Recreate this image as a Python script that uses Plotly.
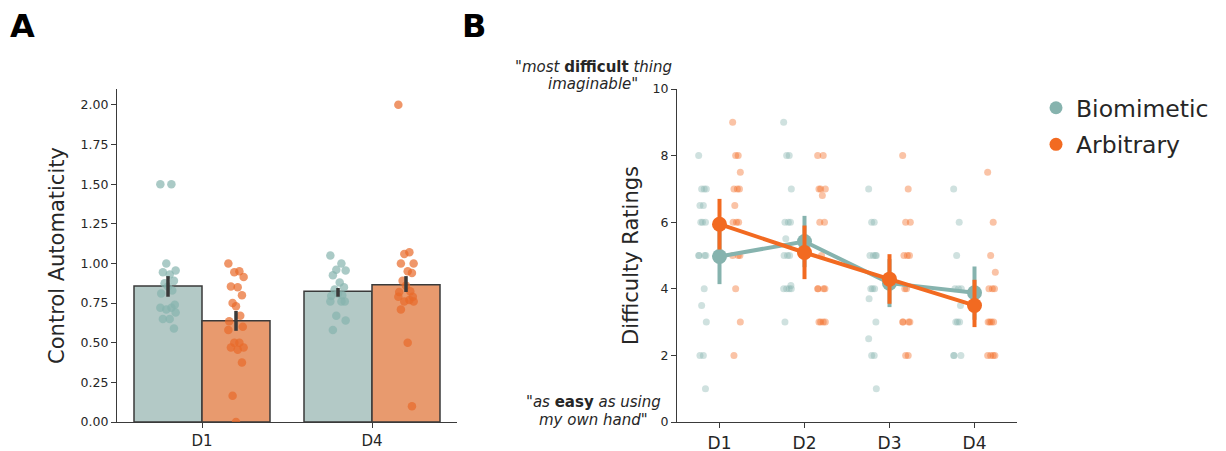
import plotly.graph_objects as go

# ---------------- Data ----------------
# Panel A: Control Automaticity
cats_a = ["D1", "D4"]
bar_bio = [0.858, 0.825]
bar_arb = [0.639, 0.866]
ci_bio_lo = [0.79, 0.79]
ci_bio_hi = [0.92, 0.845]
ci_arb_lo = [0.575, 0.82]
ci_arb_hi = [0.70, 0.92]

pts_a_bio_d1 = [1.5, 1.5, 1.0, 0.955, 0.945, 0.93, 0.89, 0.875, 0.855, 0.83, 0.81,
                0.74, 0.72, 0.72, 0.71, 0.69, 0.65, 0.65, 0.59]
pts_a_arb_d1 = [1.0, 0.95, 0.945, 0.915, 0.855, 0.85, 0.80, 0.75, 0.73, 0.67, 0.635,
                0.60, 0.58, 0.50, 0.50, 0.47, 0.47, 0.455, 0.375, 0.165, 0.0]
pts_a_bio_d4 = [1.05, 1.0, 0.96, 0.955, 0.925, 0.88, 0.85, 0.835, 0.81, 0.80, 0.795,
                0.76, 0.76, 0.76, 0.67, 0.64, 0.58]
pts_a_arb_d4 = [2.0, 1.07, 1.06, 1.0, 1.0, 0.95, 0.94, 0.89, 0.86, 0.825, 0.82,
                0.79, 0.79, 0.77, 0.76, 0.76, 0.71, 0.5, 0.1]

# Panel B: Difficulty Ratings
cats_b = ["D1", "D2", "D3", "D4"]
mean_bio = [4.97, 5.42, 4.17, 3.88]
mean_arb = [5.94, 5.09, 4.29, 3.50]
ci_b_bio_lo = [4.14, 4.65, 3.45, 3.07]
ci_b_bio_hi = [5.80, 6.19, 4.89, 4.67]
ci_b_arb_lo = [5.18, 4.29, 3.55, 2.85]
ci_b_arb_hi = [6.70, 5.90, 5.04, 4.27]

pts_b_bio = [
    [8, 7, 7, 7, 6.5, 6.5, 6, 6, 6, 5, 5, 5, 5, 4, 3.5, 3, 2, 2, 1],
    [9, 8, 8, 7, 6, 6, 6, 5.5, 5, 5, 5, 4.1, 4, 4, 4, 4, 3],
    [7, 6, 6, 5, 5, 5, 5, 4, 4, 4, 3.7, 3, 2.5, 2, 2, 1],
    [7, 6, 5, 4, 4, 4, 3.5, 3, 3, 3, 2, 2, 2],
]
pts_b_arb = [
    [9, 8, 8, 7.5, 7, 7, 7, 6.5, 6, 6, 6, 5, 5, 5, 4, 3, 2],
    [8, 8, 7, 7, 7, 6.8, 6, 6, 5, 4, 4, 4, 4, 3, 3, 3, 3],
    [8, 7, 6, 6, 5, 5, 5, 4, 4, 3, 3, 3, 3, 2, 2],
    [7.5, 6, 5, 4.5, 4, 4, 4, 3, 3, 3, 3, 2, 2, 2, 2],
]

# ---------------- Styles ----------------
TEAL_BAR = "#b3c9c6"
ORANGE_BAR = "#e89a6e"
TEAL_PT = "#86b3ae"
ORANGE_PT = "#e8692a"
ORANGE_LINE = "#f26a21"
DARK = "#3a3a3a"
TXT = "#262626"
FONT = "DejaVu Sans"
JIT = [-0.045, 0.02, -0.01, 0.045, -0.03, 0.01, 0.035, -0.02, 0.0, 0.025, -0.04, 0.04]

W, H = 1226, 451
OFF = 8  # page body margin in the browser
def fx(p): return (p - OFF) / W
def fy(p): return 1 - (p - OFF) / H

fig = go.Figure()

# ---------------- Panel A ----------------
dodge_a = 0.2
xa_bio = [i - dodge_a for i in range(len(cats_a))]
xa_arb = [i + dodge_a for i in range(len(cats_a))]
fig.add_trace(go.Bar(x=xa_bio, y=bar_bio, width=0.4, marker=dict(color=TEAL_BAR, line=dict(color=DARK, width=1.5)),
                     xaxis="x", yaxis="y", showlegend=False))
fig.add_trace(go.Bar(x=xa_arb, y=bar_arb, width=0.4, marker=dict(color=ORANGE_BAR, line=dict(color=DARK, width=1.5)),
                     xaxis="x", yaxis="y", showlegend=False))

def strip(vals, center, color, opacity, size, xa, ya):
    xs = [center + JIT[k % len(JIT)] for k in range(len(vals))]
    fig.add_trace(go.Scatter(x=xs, y=vals, mode="markers", xaxis=xa, yaxis=ya, showlegend=False,
                             marker=dict(color=color, size=size, opacity=opacity, line=dict(width=0))))

strip(pts_a_bio_d1, xa_bio[0], TEAL_PT, 0.7, 8.5, "x", "y")
strip(pts_a_arb_d1, xa_arb[0], ORANGE_PT, 0.7, 8.5, "x", "y")
strip(pts_a_bio_d4, xa_bio[1], TEAL_PT, 0.7, 8.5, "x", "y")
strip(pts_a_arb_d4, xa_arb[1], ORANGE_PT, 0.7, 8.5, "x", "y")

for xs, means, lo, hi in [(xa_bio, bar_bio, ci_bio_lo, ci_bio_hi), (xa_arb, bar_arb, ci_arb_lo, ci_arb_hi)]:
    fig.add_trace(go.Scatter(x=xs, y=means, mode="markers", marker=dict(size=1, opacity=0), xaxis="x", yaxis="y",
                             showlegend=False,
                             error_y=dict(type="data", symmetric=False,
                                          array=[h - m for h, m in zip(hi, means)],
                                          arrayminus=[m - l for m, l in zip(means, lo)],
                                          color=DARK, thickness=3.5, width=0)))

# ---------------- Panel B ----------------
dodge_b = 0.2
for i in range(len(cats_b)):
    strip(pts_b_bio[i], i - dodge_b, TEAL_PT, 0.4, 7, "x2", "y2")
    strip(pts_b_arb[i], i + dodge_b, ORANGE_LINE, 0.4, 7, "x2", "y2")

xb = list(range(len(cats_b)))
for means, lo, hi, color in [(mean_bio, ci_b_bio_lo, ci_b_bio_hi, TEAL_PT),
                             (mean_arb, ci_b_arb_lo, ci_b_arb_hi, ORANGE_LINE)]:
    fig.add_trace(go.Scatter(x=xb, y=means, mode="lines+markers", xaxis="x2", yaxis="y2", showlegend=False,
                             line=dict(color=color, width=4),
                             marker=dict(color=color, size=15),
                             error_y=dict(type="data", symmetric=False,
                                          array=[h - m for h, m in zip(hi, means)],
                                          arrayminus=[m - l for m, l in zip(means, lo)],
                                          color=color, thickness=4, width=0)))

# legend-only traces
for name, color in [("Biomimetic", TEAL_PT), ("Arbitrary", ORANGE_LINE)]:
    fig.add_trace(go.Scatter(x=[None], y=[None], mode="markers", name=name, xaxis="x2", yaxis="y2",
                             legendgroup=name, marker=dict(color=color, size=13)))

axis_common = dict(showline=True, linecolor=DARK, linewidth=1.3, ticks="outside", ticklen=5,
                   tickcolor=DARK, tickwidth=1.3, showgrid=False, zeroline=False, automargin=False)

fig.update_layout(
    width=W, height=H,
    margin=dict(l=0, r=0, t=0, b=0, pad=0),
    plot_bgcolor="white", paper_bgcolor="white",
    barmode="overlay",
    font=dict(family=FONT, color=TXT),
    xaxis=dict(domain=[fx(117), fx(457)], range=[-0.5, 1.5], tickvals=[0, 1], ticktext=cats_a,
               anchor="y", tickfont=dict(family=FONT, size=15, color=TXT), **axis_common),
    yaxis=dict(domain=[fy(422), fy(89)], range=[0, 2.1], tickvals=[0, 0.25, 0.5, 0.75, 1.0, 1.25, 1.5, 1.75, 2.0],
               tickformat=".2f", anchor="x",
               title=dict(text="Control Automaticity", font=dict(family=FONT, size=21, color=TXT), standoff=10),
               tickfont=dict(family=FONT, size=12.5, color=TXT), **axis_common),
    xaxis2=dict(domain=[fx(677), fx(1017)], range=[-0.5, 3.5], tickvals=xb, ticktext=cats_b,
                anchor="y2", tickfont=dict(family=FONT, size=17, color=TXT), **axis_common),
    yaxis2=dict(domain=[fy(422), fy(89)], range=[0, 10], tickvals=[0, 2, 4, 6, 8, 10], anchor="x2",
                title=dict(text="Difficulty Ratings", font=dict(family=FONT, size=21, color=TXT), standoff=8),
                tickfont=dict(family=FONT, size=12.5, color=TXT), **axis_common),
    legend=dict(x=fx(1036), y=fy(86), xanchor="left", yanchor="top",
                font=dict(family=FONT, size=23.5, color=TXT),
                bgcolor="rgba(0,0,0,0)", tracegroupgap=3, itemwidth=30),
)

# Panel letters
fig.add_annotation(text="<b>A</b>", x=fx(8), y=fy(26), xref="paper", yref="paper", xanchor="left", yanchor="middle",
                   showarrow=False, font=dict(family=FONT, size=32, color="black"))
fig.add_annotation(text="<b>B</b>", x=fx(460), y=fy(26), xref="paper", yref="paper", xanchor="left", yanchor="middle",
                   showarrow=False, font=dict(family=FONT, size=32, color="black"))

# Scale-end annotations (one per line)
scale_lines = [
    ("<i>\"most </i><b>difficult</b><i> thing</i>", 67),
    ("<i>imaginable\"</i>", 84),
    ("<i>\"as </i><b>easy</b><i> as using</i>", 402),
    ("<i>my own hand\"</i>", 420),
]
for txt, ypx in scale_lines:
    fig.add_annotation(text=txt, x=fx(593), y=fy(ypx), xref="paper", yref="paper", xanchor="center",
                       yanchor="middle", showarrow=False, font=dict(family=FONT, size=15, color=TXT))

fig.write_html("out.html")
